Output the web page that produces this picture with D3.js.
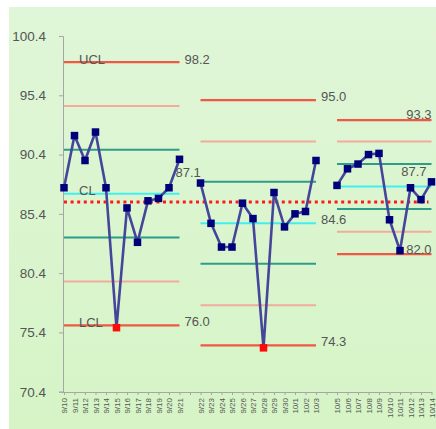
<!DOCTYPE html>
<html><head><meta charset="utf-8">
<script src="https://cdn.jsdelivr.net/npm/d3@7"></script>
<style>html,body{margin:0;padding:0;background:#fff;}svg{display:block;}</style>
</head><body>
<svg id="c" width="436" height="429"></svg>
<script>
// ---- data ----
const categories = ["9/10","9/11","9/12","9/13","9/14","9/15","9/16","9/17","9/18","9/19","9/20","9/21","",
  "9/22","9/23","9/24","9/25","9/26","9/27","9/28","9/29","9/30","10/1","10/2","10/3","",
  "10/5","10/6","10/7","10/8","10/9","10/10","10/11","10/12","10/13","10/14"];
const values = [87.6, 92.0, 89.9, 92.3, 87.6, 75.8, 85.9, 83.0, 86.5, 86.7, 87.6, 90.0, null,
  88.0, 84.6, 82.6, 82.6, 86.3, 85.0, 74.1, 87.2, 84.3, 85.4, 85.6, 89.9, null,
  87.8, 89.2, 89.6, 90.4, 90.5, 84.9, 82.3, 87.6, 86.6, 88.1];
const groupStart = [0, 13, 26];
const groupEnd = [11, 24, 35];
const ucl = [98.2, 95.0, 93.3];
const upper2 = [94.5, 91.5, 91.5];
const upper1 = [90.8, 88.1, 89.6];
const cl = [87.1, 84.6, 87.7];
const lower1 = [83.4, 81.2, 85.8];
const lower2 = [79.7, 77.7, 83.9];
const lcl = [76.0, 74.3, 82.0];
const overallMean = 86.4;
const yTicks = [70.4, 75.4, 80.4, 85.4, 90.4, 95.4, 100.4];

// ---- drawing ----
const svg = d3.select("#c");
const defs = svg.append("defs");
const grad = defs.append("linearGradient").attr("id","bg").attr("x1",0).attr("y1",0).attr("x2",0).attr("y2",1);
grad.append("stop").attr("offset","0%").attr("stop-color","#e0f6d8");
grad.append("stop").attr("offset","100%").attr("stop-color","#d6f4c6");
svg.append("rect").attr("x",9).attr("y",7).attr("width",427).attr("height",422).attr("fill","url(#bg)");

const idx = categories.map((d,i)=>i);
const x = d3.scalePoint().domain(idx).range([64, 431.5]);
const y = d3.scaleLinear().domain([70.4, 100.4]).range([391.7, 36]);

const font = "Liberation Sans, Arial, sans-serif";
const textCol = "#555555";

// axes
const yAxis = svg.append("g").attr("transform","translate(63,0)")
  .call(d3.axisLeft(y).tickValues(yTicks).tickFormat(d3.format(".1f")).tickSize(4).tickPadding(13));
yAxis.select(".domain").attr("stroke","#a6a6a6");
yAxis.selectAll(".tick line").attr("stroke","#a6a6a6");
yAxis.selectAll("text").attr("fill",textCol).style("font-family",font).style("font-size","13.5px");

const xAxis = svg.append("g").attr("transform","translate(0,392)")
  .call(d3.axisBottom(x).tickFormat(i=>categories[i]).tickSize(3).tickSizeOuter(0));
xAxis.select(".domain").attr("stroke","#a6a6a6").attr("d","M63,0.5H432");
xAxis.selectAll(".tick line").attr("stroke","#a6a6a6");
xAxis.selectAll("text")
  .attr("fill","#555")
  .style("font-family",font).style("font-size","8px")
  .attr("text-anchor","end")
  .attr("transform","rotate(-90)")
  .attr("x",-6).attr("y",0).attr("dy","0.35em");

// limit lines
const limitSets = [
  {vals: upper2, color:"#f2ab9c", w:2},
  {vals: lower2, color:"#f2ab9c", w:2},
  {vals: upper1, color:"#2f9c88", w:2},
  {vals: lower1, color:"#2f9c88", w:2},
  {vals: cl, color:"#3ff0ee", w:2},
  {vals: ucl, color:"#ee5844", w:2.2},
  {vals: lcl, color:"#ee5844", w:2.2}
];
const lg = svg.append("g");
limitSets.forEach(s=>{
  lg.selectAll(null).data(s.vals).enter().append("line")
    .attr("x1",(d,i)=>x(groupStart[i])).attr("x2",(d,i)=>x(groupEnd[i]))
    .attr("y1",d=>y(d)).attr("y2",d=>y(d))
    .attr("stroke",s.color).attr("stroke-width",s.w);
});

// overall mean dotted
svg.append("line").attr("x1",x(0)).attr("x2",x(categories.length-1)-3)
  .attr("y1",y(overallMean)).attr("y2",y(overallMean))
  .attr("stroke","#ff1a1a").attr("stroke-width",3).attr("stroke-dasharray","3,3.6");

// labels
const lab = svg.append("g").style("font-family",font).style("font-size","13px").attr("fill",textCol);
const lx0 = x(0) + 15;
[["UCL",ucl[0]],["CL",cl[0]],["LCL",lcl[0]]].forEach(([t,v])=>{
  lab.append("text").attr("x",lx0).attr("y",y(v)-2).attr("dominant-baseline","middle").text(t);
});
const f1 = d3.format(".1f");
[0,1].forEach(g=>{
  lab.append("text").attr("x",x(groupEnd[g])+5).attr("y",y(ucl[g])-2).attr("dominant-baseline","middle").text(f1(ucl[g]));
  lab.append("text").attr("x",x(groupEnd[g])+5).attr("y",y(lcl[g])-3).attr("dominant-baseline","middle").text(f1(lcl[g]));
});
lab.append("text").attr("x",x(groupEnd[0])-4).attr("y",y(cl[0])-20).attr("dominant-baseline","middle").text(f1(cl[0]));
lab.append("text").attr("x",x(groupEnd[1])+5).attr("y",y(cl[1])-3).attr("dominant-baseline","middle").text(f1(cl[1]));
lab.append("text").attr("x",x(groupEnd[2])).attr("y",y(ucl[2])-5).attr("text-anchor","end").attr("dominant-baseline","middle").text(f1(ucl[2]));
lab.append("text").attr("x",x(groupEnd[2])-5).attr("y",y(cl[2])-14).attr("text-anchor","end").attr("dominant-baseline","middle").text(f1(cl[2]));
lab.append("text").attr("x",x(groupEnd[2])).attr("y",y(lcl[2])-4).attr("text-anchor","end").attr("dominant-baseline","middle").text(f1(lcl[2]));

// data line
const line = d3.line().defined(d=>values[d]!==null).x(d=>x(d)).y(d=>y(values[d]));
svg.append("path").datum(idx).attr("d",line).attr("fill","none")
  .attr("stroke","#45459a").attr("stroke-width",2.6).attr("stroke-linejoin","round");

// markers
function groupOf(i){ return groupStart.findIndex((s,g)=>i>=s && i<=groupEnd[g]); }
const pts = idx.filter(i=>values[i]!==null);
const ms = 7.5;
svg.append("g").selectAll("rect").data(pts).enter().append("rect")
  .attr("x",i=>x(i)-ms/2).attr("y",i=>y(values[i])-ms/2)
  .attr("width",ms).attr("height",ms)
  .attr("fill",i=>{const g=groupOf(i); return (values[i]<lcl[g]||values[i]>ucl[g])?"#ff0a0a":"#00007a";});
</script>
</body></html>
